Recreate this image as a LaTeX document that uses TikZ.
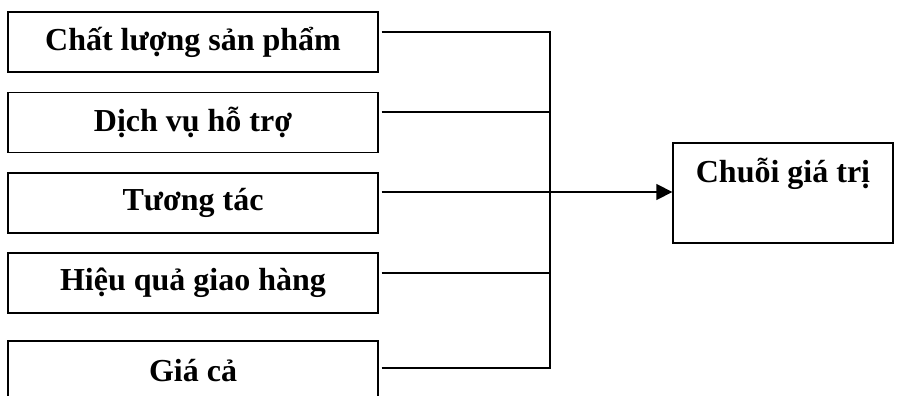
\documentclass[tikz,border=0pt]{standalone}
\usepackage{fontspec}
\setmainfont{Liberation Serif}
\usetikzlibrary{arrows.meta}

\begin{document}
\begin{tikzpicture}[x=1pt, y=-1pt, >={Triangle[length=16pt,width=16pt]},
  factor/.style={draw, line width=1.3pt, minimum width=370pt, minimum height=60pt, inner sep=0pt,
    font=\fontsize{32}{38}\selectfont\bfseries},
  wire/.style={line width=1.3pt}]
  \useasboundingbox (0,0) rectangle (903,396);
  \node[factor] (f1) at (193,42) {Chất lượng sản phẩm};
  \node[factor] (f2) at (193,122.5) {Dịch vụ hỗ trợ};
  \node[factor] (f3) at (193,203) {Tương tác};
  \node[factor] (f4) at (193,283) {Hiệu quả giao hàng};
  \node[factor] (f5) at (193,371) {Giá cả};
  \node[factor, minimum width=220pt, minimum height=100pt] (chain) at (783,193)
    {\raisebox{10pt}[0pt][0pt]{Chuỗi giá trị}};
  \coordinate (bus) at (550,0);
  \foreach \i/\dy in {1/10,2/10.5,3/11,4/10,5/3}
    \draw[wire] ([xshift=3pt,yshift=\dy pt]f\i.east) coordinate (s\i) -- (s\i -| bus);
  \draw[wire, line cap=rect] (s1 -| bus) -- (s5 -| bus);
  \draw[wire,->] (s3 -| bus) -- (s3 -| chain.west);
\end{tikzpicture}
\end{document}
